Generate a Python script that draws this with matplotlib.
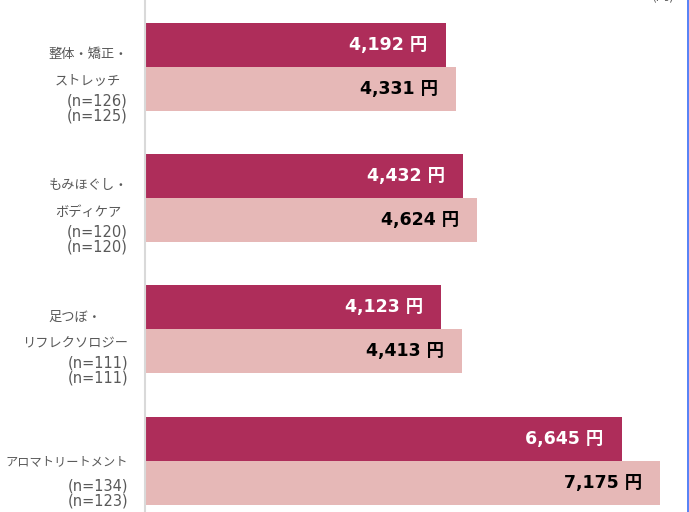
import matplotlib
matplotlib.use("Agg")
import matplotlib.pyplot as plt
from matplotlib.lines import Line2D

plt.rcParams['font.family'] = ['Noto Sans CJK JP', 'DejaVu Sans']

categories = ["整体・矯正・\nストレッチ", "もみほぐし・\nボディケア", "足つぼ・\nリフレクソロジー", "アロマトリートメント"]
n_labels = [("(n=126)", "(n=125)"), ("(n=120)", "(n=120)"), ("(n=111)", "(n=111)"), ("(n=134)", "(n=123)")]
series_a = [4192, 4432, 4123, 6645]
series_b = [4331, 4624, 4413, 7175]

dark = "#ae2d5a"
light = "#e6b8b7"
gray_text = "#595959"
num_font = ['DejaVu Sans', 'Noto Sans CJK JP']

W, H = 689, 512
fig = plt.figure(figsize=(W / 100, H / 100), dpi=100)
ax = fig.add_axes([145 / W, 0, (688 - 145) / W, 1])

bh = 0.335
ys = list(range(len(categories)))
ax.barh([y - bh / 2 for y in ys], series_a, height=bh, color=dark, linewidth=0)
ax.barh([y + bh / 2 for y in ys], series_b, height=bh, color=light, linewidth=0)

ax.set_xlim(0, 543 / 0.07173)
ax.set_ylim(3.391, -0.508)
ax.set_xticks([])
ax.set_yticks([])
for s in ["top", "right", "bottom"]:
    ax.spines[s].set_visible(False)
ax.spines["left"].set_color("#d9d9d9")
ax.spines["left"].set_linewidth(1.5)

for y, a, b in zip(ys, series_a, series_b):
    ax.annotate(f"{a:,} 円", xy=(a, y - bh / 2), xytext=(-18, 0), textcoords="offset pixels",
                ha="right", va="center", color="white", fontsize=12.5, fontweight="bold",
                family=num_font)
    ax.annotate(f"{b:,} 円", xy=(b, y + bh / 2), xytext=(-18, 0), textcoords="offset pixels",
                ha="right", va="center", color="black", fontsize=12.5, fontweight="bold",
                family=num_font)

for y, name, (n1, n2) in zip(ys, categories, n_labels):
    two = "\n" in name
    # long one-line name is shrunk a little so it fits left of the axis
    ax.annotate(name, xy=(128 / W, y), xycoords=("figure fraction", "data"),
                xytext=(0, -1), textcoords="offset pixels",
                ha="right", va="center", multialignment="center", linespacing=2.35,
                color=gray_text, fontsize=9.5 if two else 8.8)
    off = 34 if two else 25
    for k, t in enumerate((n1, n2)):
        ax.annotate(t, xy=(128 / W, y), xycoords=("figure fraction", "data"),
                    xytext=(0, -(off + 15 * k)), textcoords="offset pixels",
                    ha="right", va="center", color=gray_text, fontsize=10.5,
                    family=num_font)

fig.text(675 / W, 1 + 4 / H, "(円)", ha="right", va="center", color=gray_text, fontsize=10)
fig.add_artist(Line2D([687.5 / W, 687.5 / W], [0, 1], transform=fig.transFigure, color="#3a6cf4", linewidth=1.2))

fig.savefig("out.png", dpi=100)
